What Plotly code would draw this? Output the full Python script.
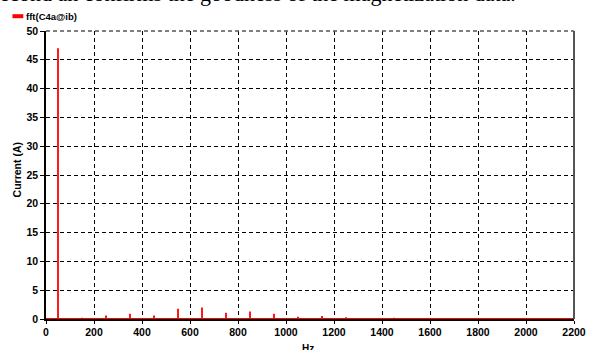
import plotly.graph_objects as go

# Harmonic spectrum data (Hz, A)
harmonic_freqs = [50, 150, 250, 350, 450, 550, 650, 750, 850, 950, 1050, 1150, 1250, 1350, 1450]
harmonic_amps = [47.0, 0.2, 0.6, 0.9, 0.6, 1.8, 2.0, 1.1, 1.3, 0.9, 0.4, 0.5, 0.3, 0.15, 0.2]
x_ticks = [0, 200, 400, 600, 800, 1000, 1200, 1400, 1600, 1800, 2000, 2200]
y_ticks = [0, 5, 10, 15, 20, 25, 30, 35, 40, 45, 50]
series_name = "fft(C4a@ib)"

xs, ys = [0], [0]
for f, a in zip(harmonic_freqs, harmonic_amps):
    xs += [f, f, f]
    ys += [0, a, 0]
xs.append(2200)
ys.append(0)

fig = go.Figure()
fig.add_trace(go.Scatter(x=xs, y=ys, mode="lines",
                         line=dict(color="#ff0000", width=1.8),
                         name=series_name, showlegend=False, cliponaxis=False))

axis_font = dict(family="Liberation Sans, Arial", size=10.5, color="black", weight="bold")

fig.update_layout(
    width=598, height=350,
    margin=dict(l=46, r=17, t=31, b=27),
    paper_bgcolor="white", plot_bgcolor="white",
    xaxis=dict(range=[0, 2200], tickvals=x_ticks, ticktext=[str(v) for v in x_ticks],
               showgrid=True, gridcolor="black", griddash="4px,3px", gridwidth=1,
               showline=True, linecolor="black", linewidth=1.5, mirror=False,
               ticks="outside", ticklen=3, tickcolor="black", tickfont=axis_font,
               zeroline=False, fixedrange=True),
    yaxis=dict(range=[0, 50], tickvals=y_ticks, ticktext=[str(v) for v in y_ticks],
               showgrid=True, gridcolor="black", griddash="4px,3px", gridwidth=1,
               showline=True, linecolor="black", linewidth=1.5,
               ticks="outside", ticklen=4, tickcolor="black", tickfont=axis_font,
               zeroline=False, fixedrange=True),
)

# top and right frame
fig.add_shape(type="line", xref="paper", yref="paper", x0=0, x1=1, y0=1, y1=1,
              line=dict(color="#555555", width=1.5, dash="4px,3px"))
fig.add_shape(type="line", xref="paper", yref="paper", x0=1, x1=1, y0=0, y1=1,
              line=dict(color="#555555", width=2))

# legend (manual)
fig.add_shape(type="line", xref="paper", yref="paper",
              x0=-34/535, x1=-23/535, y0=1 + 15/292, y1=1 + 15/292,
              line=dict(color="#ff0000", width=4))
fig.add_annotation(text=series_name, xref="paper", yref="paper",
                   x=-22/535, y=1 + 15/292, xanchor="left", yanchor="middle",
                   showarrow=False, font=dict(family="Liberation Sans, Arial", size=9.5,
                                              color="black", weight="bold"))

# axis titles
fig.add_annotation(text="Current (A)", xref="paper", yref="paper",
                   x=-29/535, y=(323-172)/292, textangle=-90, xanchor="center", yanchor="middle",
                   showarrow=False, font=dict(family="Liberation Sans, Arial", size=10.5,
                                              color="black", weight="bold"))
fig.add_annotation(text="Hz", xref="paper", yref="paper",
                   x=(311-46)/535, y=-22/292, xanchor="center", yanchor="top",
                   showarrow=False, font=dict(family="Liberation Sans, Arial", size=10,
                                              color="black", weight="bold"))

# clipped text line from surrounding page
fig.add_annotation(text="second an confirms the goodness of the magnetization data.",
                   xref="paper", yref="paper", x=-58/535, y=1 + 23/292,
                   xanchor="left", yanchor="bottom", showarrow=False,
                   font=dict(family="Liberation Serif, Times New Roman", size=22, color="black"))

fig.write_html("out.html")
